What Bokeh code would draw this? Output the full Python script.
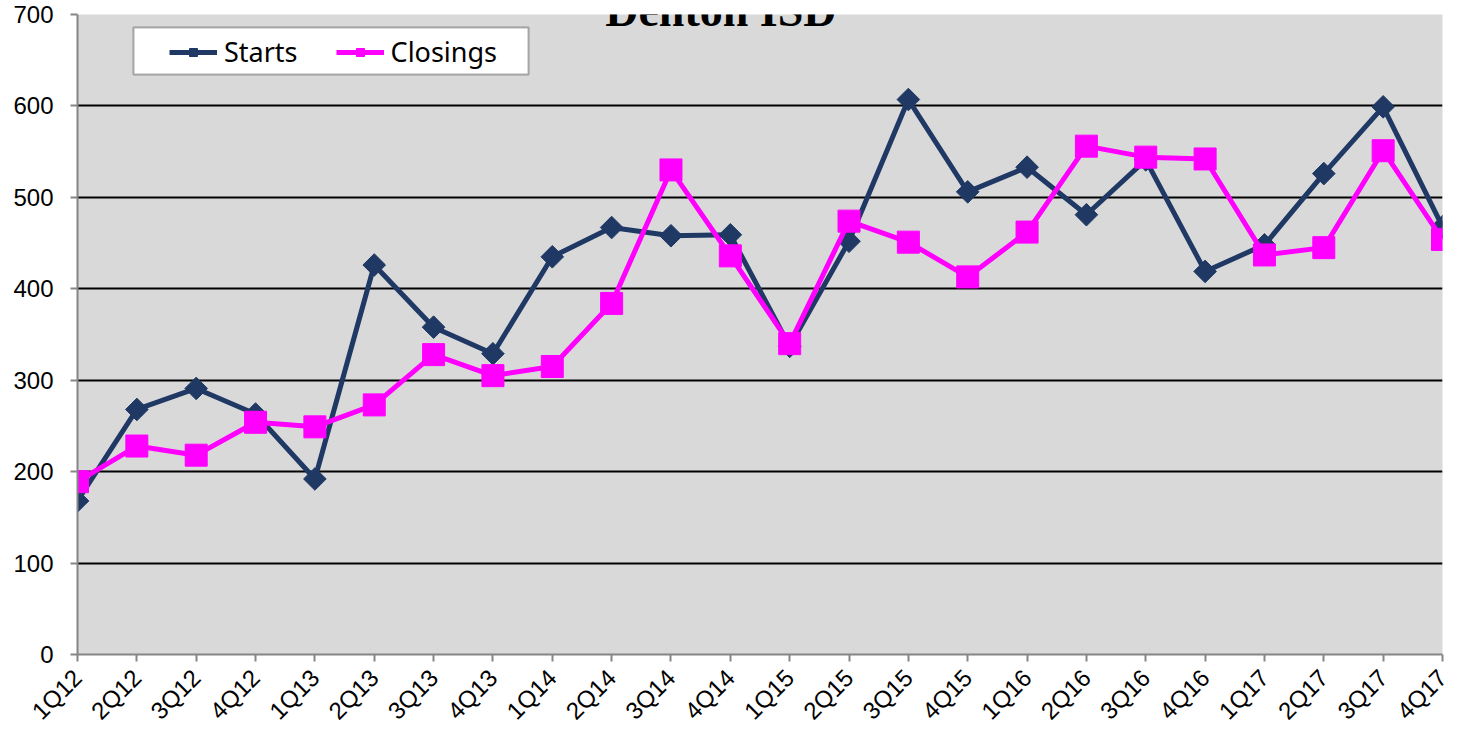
import math
from bokeh.plotting import figure
from bokeh.models import (ColumnDataSource, FixedTicker, Label, Legend, LegendItem,
                          Range1d, BoxAnnotation)
from bokeh.embed import file_html
from bokeh.resources import INLINE

quarters = ["1Q12", "2Q12", "3Q12", "4Q12", "1Q13", "2Q13", "3Q13", "4Q13",
            "1Q14", "2Q14", "3Q14", "4Q14", "1Q15", "2Q15", "3Q15", "4Q15",
            "1Q16", "2Q16", "3Q16", "4Q16", "1Q17", "2Q17", "3Q17", "4Q17"]
starts = [168, 268, 291, 263, 192, 426, 358, 329, 435, 467, 458, 459,
          337, 452, 607, 506, 533, 481, 541, 419, 448, 526, 599, 468]
closings = [189, 228, 218, 254, 249, 273, 328, 305, 315, 384, 530, 436,
            340, 474, 451, 413, 462, 556, 544, 542, 437, 445, 551, 454]
y_ticks = [0, 100, 200, 300, 400, 500, 600, 700]
title_text = "Denton ISD"

idx = list(range(len(quarters)))
src = ColumnDataSource(dict(x=idx, starts=starts, closings=closings))

p = figure(width=1459, height=737, output_backend="svg", toolbar_location=None,
           x_range=Range1d(0, len(quarters) - 1), y_range=Range1d(0, 700),
           min_border_left=77, min_border_right=17, min_border_top=14, min_border_bottom=81,
           background_fill_color="#d9d9d9", border_fill_color="white",
           outline_line_color=None)

p.xaxis.ticker = FixedTicker(ticks=idx)
p.xaxis.major_label_overrides = {i: q for i, q in zip(idx, quarters)}
p.xaxis.major_label_orientation = math.pi / 4
p.yaxis.ticker = FixedTicker(ticks=y_ticks)

for ax in (p.xaxis[0], p.yaxis[0]):
    ax.axis_line_color = "#868686"
    ax.axis_line_width = 2
    ax.major_tick_line_color = "#868686"
    ax.major_tick_line_width = 2
    ax.major_tick_in = 0
    ax.major_tick_out = 7
    ax.minor_tick_line_color = None
    ax.major_label_text_font = "Liberation Sans"
    ax.major_label_text_color = "black"
    ax.major_label_text_font_size = "24px"

p.xaxis.major_label_standoff = 12
p.yaxis.major_label_standoff = 17

p.xgrid.grid_line_color = None
p.ygrid.grid_line_color = "black"
p.ygrid.grid_line_width = 2

navy = "#1f3864"
mag = "#ff00ff"

l1 = p.line("x", "starts", source=src, line_color=navy, line_width=5)
m1 = p.scatter("x", "starts", source=src, marker="square", angle=math.pi / 4,
               size=16, fill_color=navy, line_color=navy)
l2 = p.line("x", "closings", source=src, line_color=mag, line_width=5)
m2 = p.scatter("x", "closings", source=src, marker="square", size=22,
               fill_color=mag, line_color=mag)

legend_box = BoxAnnotation(left=133, right=528, top=27, bottom=74,
                           left_units="canvas", right_units="canvas",
                           top_units="canvas", bottom_units="canvas",
                           fill_color="white", fill_alpha=1,
                           line_color="black", line_width=2, level="overlay")
p.add_layout(legend_box)

legend = Legend(items=[LegendItem(label="Starts", renderers=[l1, m1]),
                       LegendItem(label="Closings", renderers=[l2, m2])],
                orientation="horizontal", location=(92, 584),
                label_text_font="Noto Sans", label_text_font_size="27px",
                label_text_color="black",
                glyph_width=48, glyph_height=20, spacing=38, padding=0,
                margin=0, label_standoff=7,
                border_line_color=None, background_fill_alpha=0)
p.add_layout(legend, "center")

title = Label(x=10.84, y=704.5, text=title_text, text_font="Liberation Serif",
              text_font_style="bold", text_font_size="46px", text_align="center",
              text_baseline="alphabetic", text_color="black")
p.add_layout(title)

open("out.html", "w").write(file_html(p, INLINE))
